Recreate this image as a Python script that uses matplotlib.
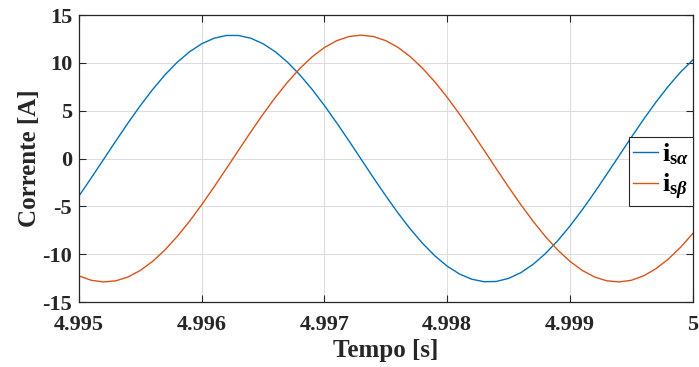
import numpy as np
import matplotlib
matplotlib.use('Agg')
import matplotlib.pyplot as plt

# amostras a cada 0.1 ms
tempo = np.round(4.995 + 0.0001 * np.arange(51), 4)

i_s_alpha = [-3.913, -2.028, -0.098, 1.835, 3.727, 5.534, 7.217, 8.737, 10.060, 11.155,
             12.000, 12.574, 12.864, 12.864, 12.574, 12.000, 11.155, 10.060, 8.737, 7.217,
             5.534, 3.727, 1.835, -0.098, -2.028, -3.913, -5.710, -7.378, -8.879, -10.181,
             -11.252, -12.070, -12.616, -12.877, -12.848, -12.528, -11.927, -11.056, -9.936, -8.592,
             -7.054, -5.357, -3.540, -1.642, 0.293, 2.221, 4.099, 5.884, 7.537, 9.020,
             10.299]

i_s_beta = [-12.262, -12.724, -12.899, -12.782, -12.378, -11.694, -10.747, -9.557, -8.152, -6.562,
            -4.825, -2.979, -1.066, 0.871, 2.789, 4.644, 6.394, 7.999, 9.425, 10.637,
            11.610, 12.321, 12.754, 12.900, 12.754, 12.321, 11.610, 10.637, 9.425, 7.999,
            6.394, 4.644, 2.789, 0.871, -1.066, -2.979, -4.825, -6.562, -8.152, -9.557,
            -10.747, -11.694, -12.378, -12.782, -12.899, -12.724, -12.262, -11.524, -10.526, -9.290,
            -7.845]

xticks = [4.995, 4.996, 4.997, 4.998, 4.999, 5.0]
xticklabels = ['4.995', '4.996', '4.997', '4.998', '4.999', '5']
yticks = [-15, -10, -5, 0, 5, 10, 15]

plt.rcParams['font.family'] = ['Liberation Serif', 'DejaVu Serif']
plt.rcParams['font.weight'] = 'bold'
plt.rcParams['axes.unicode_minus'] = False
plt.rcParams['mathtext.fontset'] = 'custom'
plt.rcParams['mathtext.rm'] = 'Liberation Serif'
plt.rcParams['mathtext.bf'] = 'Liberation Serif:bold'
plt.rcParams['mathtext.it'] = 'Liberation Serif:italic:bold'

fig = plt.figure(figsize=(6.99, 3.67), dpi=100)
ax = fig.add_axes([0.113, 0.177, 0.878, 0.782])

ax.plot(tempo, i_s_alpha, color='#0072BD', lw=1.0, solid_joinstyle='round',
        label=r'$\mathbf{i}_{\mathbf{s}\alpha}$')
ax.plot(tempo, i_s_beta, color='#D95319', lw=1.0, solid_joinstyle='round',
        label=r'$\mathbf{i}_{\mathbf{s}\beta}$')

ax.set_xlim(4.995, 5.0)
ax.set_ylim(-15, 15)
ax.set_xticks(xticks)
ax.set_xticklabels(xticklabels)
ax.set_yticks(yticks)
ax.grid(True, color='#dcdcdc', lw=0.7)
ax.set_axisbelow(True)
ax.tick_params(direction='in', length=5, width=0.8, top=True, right=True,
               labelsize=16, colors='#262626')
ax.tick_params(axis='x', pad=9)
ax.tick_params(axis='y', pad=5)
for sp in ax.spines.values():
    sp.set_color('#262626')
    sp.set_linewidth(0.9)

ax.set_xlabel('Tempo [s]', fontsize=18, fontweight='bold', color='#262626', labelpad=3)
ax.set_ylabel('Corrente [A]', fontsize=18, fontweight='bold', color='#262626', labelpad=1)

leg = ax.legend(loc='center right', bbox_to_anchor=(1.0, 0.455), borderaxespad=0,
                fancybox=False, framealpha=1, edgecolor='#262626', fontsize=19,
                handlelength=0.95, handletextpad=0.15, borderpad=0.15, labelspacing=0.2)
leg.get_frame().set_linewidth(0.8)

fig.savefig('out.png', dpi=100)
